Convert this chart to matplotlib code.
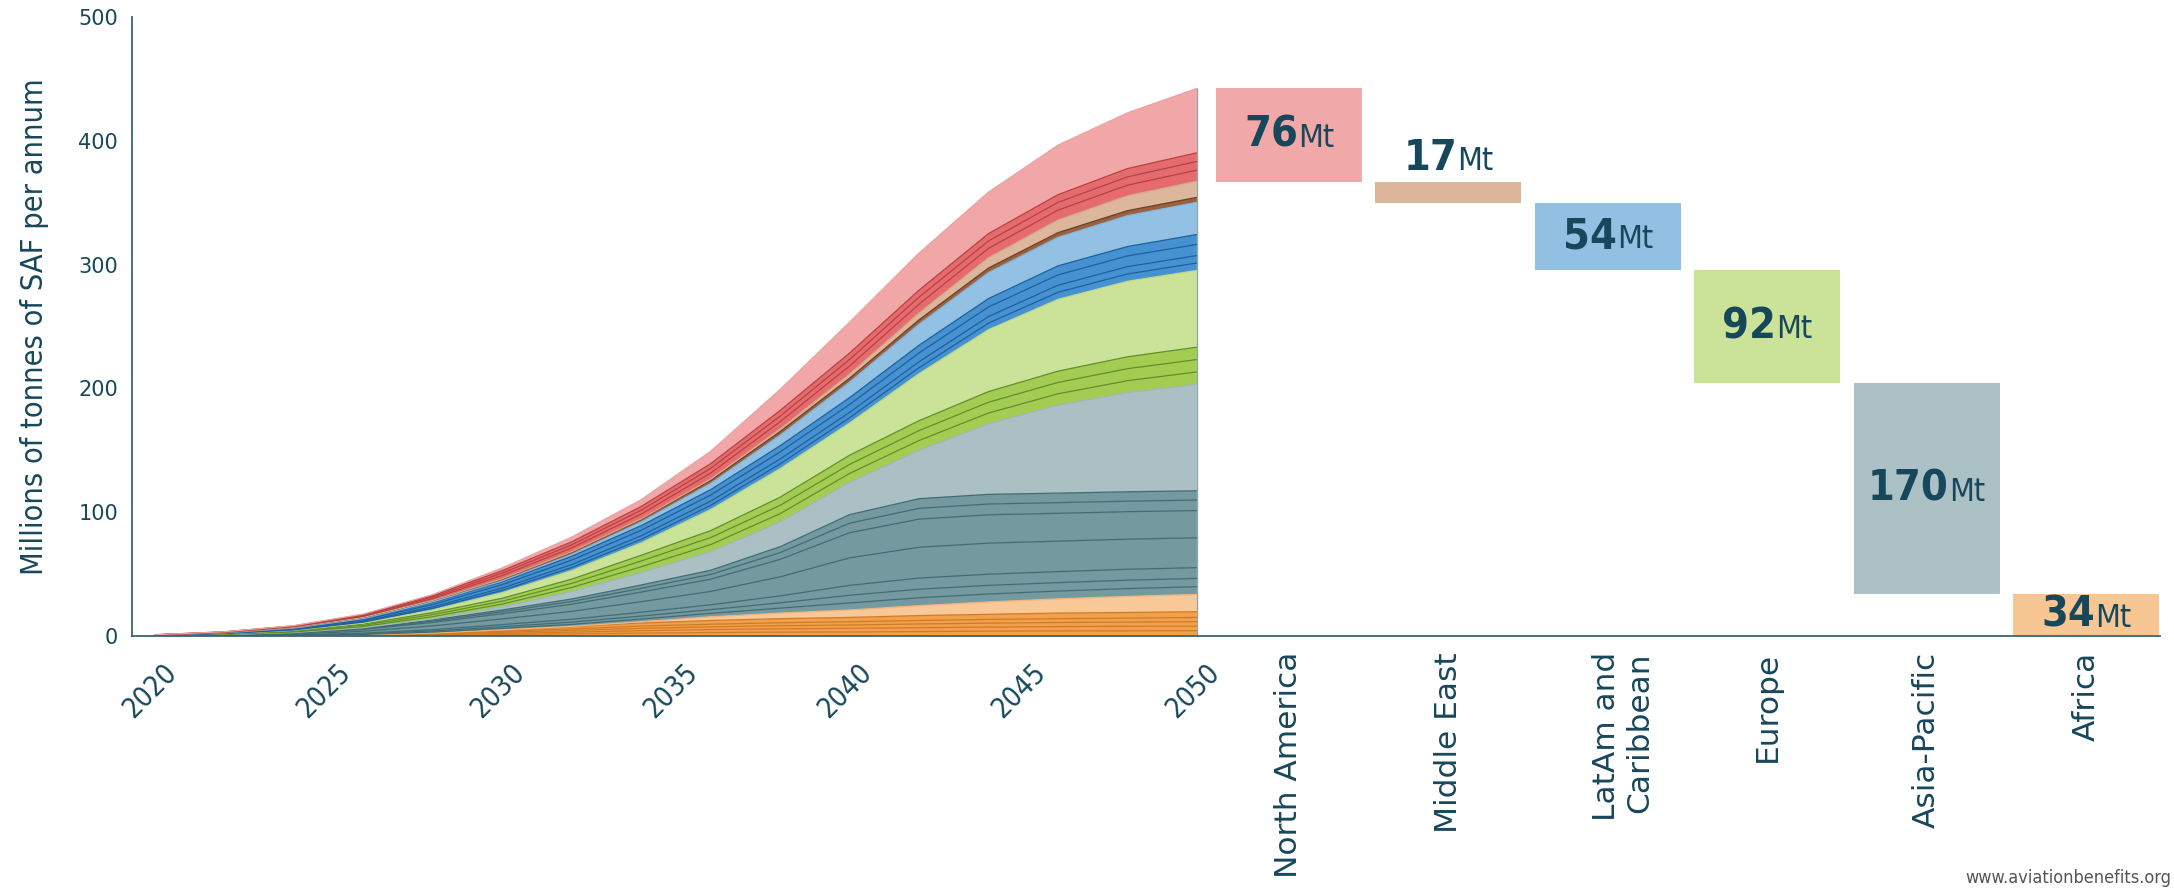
import numpy as np
import matplotlib
matplotlib.use("Agg")
import matplotlib.pyplot as plt
from matplotlib import font_manager
from matplotlib.font_manager import FontProperties
from matplotlib.offsetbox import TextArea, HPacker, AnnotationBbox
from matplotlib.transforms import ScaledTranslation

# ---------------------------------------------------------------------------
# Data (millions of tonnes of SAF per annum)
years = [2020, 2022, 2024, 2026, 2028, 2030, 2032, 2034,
         2036, 2038, 2040, 2042, 2044, 2046, 2048, 2050]

# Africa: several small orange layers + one peach layer
africa_orange = [
    [0, 0.02, 0.05, 0.2, 0.5, 1.1, 1.7, 2.3, 2.8, 3.1, 3.3, 3.6, 3.9, 4.1, 4.2, 4.3],
    [0, 0.01, 0.05, 0.18, 0.45, 1.0, 1.4, 2.0, 2.4, 2.7, 2.9, 3.1, 3.3, 3.5, 3.6, 3.7],
    [0, 0.01, 0.05, 0.17, 0.45, 0.9, 1.4, 1.9, 2.2, 2.5, 2.7, 3.0, 3.2, 3.3, 3.4, 3.6],
    [0, 0.01, 0.05, 0.16, 0.45, 0.8, 1.3, 1.8, 2.1, 2.4, 2.6, 2.8, 3.0, 3.1, 3.2, 3.4],
    [0, 0.02, 0.05, 0.19, 0.55, 1.2, 1.7, 2.5, 3.0, 3.3, 3.5, 4.0, 4.1, 4.5, 4.6, 4.6],
]
africa_rest = [0, 0, 0, 0, 0, 0, 0.3, 1, 3, 4.5, 6, 8, 10, 11.5, 13, 14]

# Asia-Pacific: teal layers + light grey-blue layer
asia_teal = [
    [0.02, 0.07, 0.18, 0.4, 0.78, 1.2, 1.6, 2.2, 2.8, 4.0, 5.7, 6.4, 6.4, 6.3, 6.3, 6.2],
    [0.02, 0.08, 0.19, 0.43, 0.85, 1.3, 1.8, 2.4, 3.0, 4.3, 6.2, 6.9, 7.0, 6.8, 6.8, 6.7],
    [0.03, 0.1, 0.25, 0.56, 1.1, 1.7, 2.3, 3.1, 3.9, 5.6, 8.0, 9.0, 9.0, 8.9, 8.8, 8.7],
    [0.09, 0.29, 0.69, 1.56, 3.05, 4.6, 6.4, 8.5, 10.8, 15.4, 22.2, 24.9, 25.1, 24.6, 24.3, 24.1],
    [0.08, 0.26, 0.63, 1.42, 2.79, 4.2, 5.8, 7.8, 9.9, 14.1, 20.3, 22.7, 22.9, 22.5, 22.2, 22.0],
    [0.03, 0.1, 0.24, 0.54, 1.06, 1.6, 2.2, 3.0, 3.8, 5.4, 7.7, 8.7, 8.7, 8.6, 8.5, 8.5],
    [0.03, 0.09, 0.22, 0.49, 0.95, 1.4, 2.0, 2.7, 3.4, 4.8, 6.9, 7.8, 7.8, 7.7, 7.6, 7.5],
]
asia_rest = [0, 0.05, 0.15, 0.4, 1.0, 2.5, 6, 10, 15, 20, 26, 39, 57, 71, 80, 86]

# Europe: green layers + light green layer
europe_green = [
    [0.07, 0.2, 0.47, 0.97, 1.67, 2.3, 3.3, 4.7, 5.7, 6.7, 7.3, 8.0, 8.7, 9.2, 9.7, 10],
    [0.07, 0.2, 0.47, 0.97, 1.67, 2.3, 3.3, 4.7, 5.7, 6.7, 7.3, 8.0, 8.7, 9.2, 9.7, 10],
    [0.07, 0.2, 0.46, 0.96, 1.66, 2.4, 3.4, 4.6, 5.6, 6.6, 7.4, 8.0, 8.6, 9.1, 9.6, 10],
]
europe_rest = [0, 0.14, 0.4, 0.9, 2.1, 4.5, 7, 10, 17, 23, 26, 38, 50, 58, 61, 62]

# LatAm and Caribbean: blue layers + light blue layer
latam_blue = [
    [0.04, 0.15, 0.37, 0.72, 1.26, 1.85, 2.4, 2.9, 3.4, 3.9, 4.3, 4.8, 5.3, 5.7, 5.9, 6],
    [0.04, 0.15, 0.37, 0.72, 1.26, 1.85, 2.4, 2.9, 3.4, 3.9, 4.3, 4.8, 5.3, 5.7, 5.9, 6],
    [0.06, 0.22, 0.54, 1.07, 1.86, 2.73, 3.57, 4.34, 4.96, 5.74, 6.36, 7.13, 7.75, 8.37, 8.68, 9],
    [0.06, 0.2, 0.47, 0.94, 1.62, 2.38, 3.11, 3.78, 4.32, 5.0, 5.54, 6.21, 6.75, 7.29, 7.56, 8],
]
latam_rest = [0, 0.02, 0.05, 0.15, 0.5, 0.7, 1.5, 3, 5, 8.5, 12.5, 17, 21, 23, 25, 26]

# Middle East: brown layer + tan layer
me_brown = [0.1, 0.3, 0.6, 0.9, 1.2, 1.6, 1.9, 2.1, 2.5, 3, 3.2, 3.5, 3.7, 3.8, 4, 4]
me_rest = [0, 0, 0, 0, 0, 0.2, 0.3, 0.4, 1, 2, 3.3, 5.5, 8.3, 10.2, 12, 13]

# North America: red layers + pink layer
na_red = [
    [0.08, 0.2, 0.47, 0.9, 1.48, 2.5, 3.1, 3.9, 4.9, 5.9, 6.6, 7.2, 7.6, 8.0, 8.6, 9],
    [0.06, 0.15, 0.37, 0.7, 1.16, 2.0, 2.45, 3.05, 3.8, 4.55, 5.2, 5.65, 5.95, 6.25, 6.7, 7],
    [0.06, 0.15, 0.36, 0.7, 1.16, 2.0, 2.45, 3.05, 3.8, 4.55, 5.2, 5.65, 5.95, 6.25, 6.7, 7],
]
na_rest = [0, 0.05, 0.15, 0.4, 0.9, 2.2, 3.8, 5.5, 10, 17, 25, 30, 33.5, 40, 45, 52]

# 2050 totals by region (right-hand waterfall)
regions = ["North America", "Middle East", "LatAm and\nCaribbean",
           "Europe", "Asia-Pacific", "Africa"]
saf_2050 = [76, 17, 54, 92, 170, 34]

year_ticks = [2020, 2025, 2030, 2035, 2040, 2045, 2050]
y_ticks = [0, 100, 200, 300, 400, 500]

# ---------------------------------------------------------------------------
# Styles
TEXT = "#17475a"
AXIS = "#3a6472"
box_colors = ["#f1a8a8", "#dcb69a", "#92c0e3", "#cbe398", "#abc1c5", "#f7c692"]


def condensed_font(bold):
    # look for any installed condensed face, else fall back to DejaVu Sans
    for f in font_manager.fontManager.ttflist:
        st = f.stretch
        narrow = (st in ("condensed", "semi-condensed", "extra-condensed",
                         "ultra-condensed")) or (isinstance(st, int) and st < 500)
        w = f.weight if isinstance(f.weight, int) else \
            font_manager.weight_dict.get(f.weight, 400)
        if narrow and f.style == "normal" and (w >= 600) == bold \
                and f.fname.lower().endswith((".ttf", ".otf")):
            return FontProperties(fname=f.fname), True
    return FontProperties(family="DejaVu Sans",
                          weight="bold" if bold else "normal"), False


cond_reg, have_cond = condensed_font(False)
cond_bold, have_cond_b = condensed_font(True)

layers = (africa_orange + [africa_rest] + asia_teal + [asia_rest]
          + europe_green + [europe_rest] + latam_blue + [latam_rest]
          + [me_brown, me_rest] + na_red + [na_rest])
faces = (["#f2a04a"] * 5 + ["#f8c896"] + ["#74999e"] * 7 + ["#abc0c4"]
         + ["#a3cc52"] * 3 + ["#cbe399"] + ["#4691d0"] * 4 + ["#92c1e3"]
         + ["#9a6040", "#dcb79b"] + ["#e66b6e"] * 3 + ["#f1a7a7"])
edges = (["#cf7a28"] * 5 + ["#f0b47c"] + ["#3f6c75"] * 7 + ["#9fb6ba"]
         + ["#5f8f2a"] * 3 + ["#bcd888"] + ["#1d5e9c"] * 4 + ["#82b5dc"]
         + ["#6b3f25", "#d2a98a"] + ["#b8403f"] * 3 + ["#efa2a2"])

fig = plt.figure(figsize=(21.74, 8.92), dpi=100)
ax = fig.add_axes([0.0607, 0.287, 0.9329, 0.694])

ax.stackplot(years, *layers, colors=faces, linewidth=0)
cum = np.cumsum(np.array(layers, dtype=float), axis=0)
for top, ec in zip(cum, edges):
    ax.plot(years, top, color=ec, lw=0.9, solid_capstyle="butt")
ax.vlines(years[-1], 0, cum[-1][-1], color="#8da2a7", lw=0.9)

# Waterfall boxes
bottoms = np.cumsum(saf_2050[::-1])[::-1] - np.array(saf_2050)
xpos = 2052.65 + 4.59 * np.arange(len(regions))
ax.bar(xpos, saf_2050, bottom=bottoms, width=4.2, color=box_colors,
       edgecolor="none")

num_size = 31 if have_cond_b else 27
mt_size = 23 if have_cond else 20
for x, v, b in zip(xpos, saf_2050, bottoms):
    if v < 25:
        y, align = b + v + 2, (0.5, 0.0)
    else:
        y, align = b + v / 2, (0.5, 0.5)
    num = TextArea(str(v), textprops=dict(color=TEXT, fontsize=num_size,
                                          fontproperties=cond_bold))
    unit = TextArea("Mt", textprops=dict(color=TEXT, fontsize=mt_size,
                                         fontproperties=cond_reg))
    pack = HPacker(children=[num, unit], align="baseline", pad=0, sep=0)
    ab = AnnotationBbox(pack, (x, y), box_alignment=align, frameon=False,
                        pad=0)
    ax.add_artist(ab)

# Region labels under the boxes
for x, name in zip(xpos, regions):
    dx = 0.45 if "\n" in name else 0
    ax.text(x + dx, -0.026, name, transform=ax.get_xaxis_transform(),
            rotation=90, ha="center", va="top", multialignment="right",
            fontsize=22.5, color=TEXT)

# Axes styling
ax.set_xlim(2019.34, 2077.73)
ax.set_ylim(0, 500)
for s in ["top", "right"]:
    ax.spines[s].set_visible(False)
for s in ["left", "bottom"]:
    ax.spines[s].set_color(AXIS)
    ax.spines[s].set_linewidth(1.3)

ax.set_yticks(y_ticks)
ax.set_yticklabels([str(t) for t in y_ticks], fontsize=15, color=TEXT)
ax.tick_params(axis="y", length=0, pad=10)

ax.set_xticks(year_ticks)
ax.set_xticklabels([str(t) for t in year_ticks], rotation=45, ha="right",
                   va="top", color=TEXT, fontproperties=cond_reg,
                   fontsize=20 if have_cond else 17)
ax.tick_params(axis="x", length=0, pad=16)
shift = ScaledTranslation(20 / 72, 0, fig.dpi_scale_trans)
for lab in ax.get_xticklabels():
    lab.set_transform(lab.get_transform() + shift)

ax.set_ylabel("Millions of tonnes of SAF per annum", color=TEXT,
              fontproperties=cond_reg, fontsize=22 if have_cond else 18.5)
ax.yaxis.set_label_coords(-0.041, 0.5)

fig.text(0.999, 0.016, "www.aviationbenefits.org", ha="right", va="center",
         color="#555555", fontproperties=cond_reg, fontsize=13)

fig.savefig("out.png", dpi=100)
